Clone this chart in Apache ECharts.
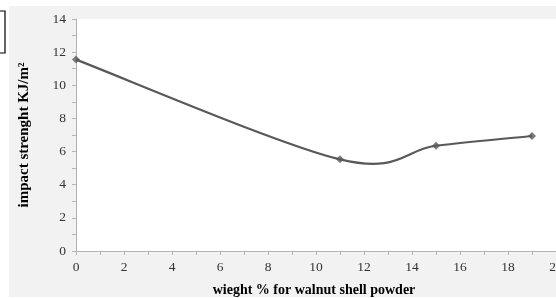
<!DOCTYPE html>
<html><head><meta charset="utf-8">
<script src="https://cdn.jsdelivr.net/npm/echarts@6/dist/echarts.min.js"></script>
<style>html,body{margin:0;padding:0;background:#fff}#c{width:556px;height:298px}</style>
</head><body><div id="c"></div>
<script>
const xValues = [0, 11, 15, 19];
const impact = [11.55, 5.53, 6.35, 6.94];
const xTitle = 'wieght % for walnut shell powder';
const yTitle = 'impact strenght KJ/m²';

const chart = echarts.init(document.getElementById('c'), null, {renderer:'canvas'});
const font = '"Liberation Serif", "DejaVu Serif", serif';
const lineColor = '#595959';

// Excel-style smoothed line (Catmull-Rom, 1/6 tension) drawn through the axes' coordinate mapping
function renderSmooth(params, api) {
  if (params.dataIndex !== 0) return null;
  const P = xValues.map((x, i) => api.coord([x, impact[i]]));
  const n = P.length;
  const children = [];
  for (let i = 0; i < n - 1; i++) {
    const p0 = P[Math.max(i - 1, 0)], p1 = P[i], p2 = P[i + 1], p3 = P[Math.min(i + 2, n - 1)];
    children.push({
      type: 'bezierCurve',
      shape: {
        x1: p1[0], y1: p1[1], x2: p2[0], y2: p2[1],
        cpx1: p1[0] + (p2[0] - p0[0]) / 6, cpy1: p1[1] + (p2[1] - p0[1]) / 6,
        cpx2: p2[0] - (p3[0] - p1[0]) / 6, cpy2: p2[1] - (p3[1] - p1[1]) / 6
      },
      style: { stroke: lineColor, lineWidth: 2.2, fill: null }
    });
  }
  return { type: 'group', children };
}

chart.setOption({
  animation: false,
  graphic: [
    {type:'rect', shape:{x:9,y:6,width:547,height:291}, style:{fill:'#f2f2f2'}, z:-10},
    {type:'polyline', shape:{points:[[0,11],[5,11],[5,53],[0,53]]}, style:{stroke:'#000',lineWidth:1.2,fill:null}}
  ],
  grid: {left:76, top:19, width:480, height:232, backgroundColor:'#fff', show:true, borderWidth:0, outerBoundsMode:'none', containLabel:false},
  xAxis: {
    type:'value', min:0, max:20, interval:2,
    name: xTitle, nameLocation:'middle', nameGap:32,
    nameTextStyle:{fontFamily:font, fontWeight:'bold', fontSize:14, color:'#000', padding:[0,0,0,-4]},
    axisLine:{show:true, lineStyle:{color:'#b3b3b3', width:1}},
    axisTick:{show:true, length:4, lineStyle:{color:'#b3b3b3'}},
    minorTick:{show:true, splitNumber:2, length:4, lineStyle:{color:'#b3b3b3'}},
    splitLine:{show:false},
    axisLabel:{fontFamily:font, fontSize:13.5, color:'#333', margin:9, showMaxLabel:true}
  },
  yAxis: {
    type:'value', min:0, max:14, interval:2,
    name: yTitle, nameLocation:'middle', nameGap:44, nameRotate:90,
    nameTextStyle:{fontFamily:font, fontWeight:'bold', fontSize:15, color:'#000'},
    axisLine:{show:true, lineStyle:{color:'#b3b3b3', width:1}},
    axisTick:{show:true, length:4, lineStyle:{color:'#b3b3b3'}},
    minorTick:{show:true, splitNumber:2, length:4, lineStyle:{color:'#b3b3b3'}},
    splitLine:{show:false},
    axisLabel:{fontFamily:font, fontSize:13.5, color:'#333', margin:10}
  },
  series: [
    {
      type:'custom',
      renderItem: renderSmooth,
      data: xValues.map((x,i)=>[x, impact[i]]),
      clip: false,
      z: 2
    },
    {
      type:'scatter',
      data: xValues.map((x,i)=>[x, impact[i]]),
      symbol:'diamond', symbolSize:8,
      itemStyle:{color:lineColor},
      z: 3
    }
  ]
});
</script></body></html>
